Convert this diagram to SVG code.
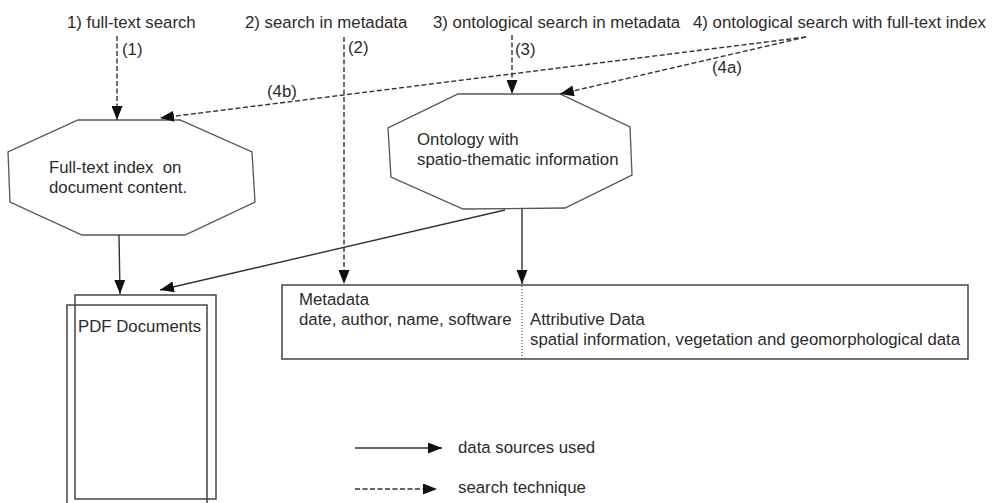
<svg xmlns="http://www.w3.org/2000/svg" width="993" height="503" viewBox="0 0 993 503">
  <style>
    text { font-family: "Liberation Sans", Arial, sans-serif; font-size: 16.8px; fill: #2b2b2b; white-space: pre; }
    .shape { fill: #ffffff; stroke: #555555; stroke-width: 1.3; }
    .box { fill: none; stroke: #444444; stroke-width: 1.5; }
    .flow { fill: none; stroke: #333333; stroke-width: 1.4; marker-end: url(#head); }
    .search { fill: none; stroke: #333333; stroke-width: 1.4; stroke-dasharray: 5 2.5; marker-end: url(#head); }
    .divider { stroke: #555555; stroke-width: 1.2; stroke-dasharray: 1 2; }
  </style>
  <defs>
    <marker id="head" markerUnits="userSpaceOnUse" markerWidth="14" markerHeight="11" refX="14" refY="5.5" orient="auto">
      <path d="M0,0 L14,5.5 L0,11 z" fill="#111111"/>
    </marker>
  </defs>

  <rect width="993" height="503" fill="#ffffff"/>

  <!-- search techniques -->
  <g id="q1"><text x="67" y="28">1) full-text search</text></g>
  <g id="q2"><text x="245" y="28">2) search in metadata</text></g>
  <g id="q3"><text x="433" y="28">3) ontological search in metadata</text></g>
  <g id="q4"><text x="693" y="28">4) ontological search with full-text index</text></g>

  <!-- full-text index -->
  <g id="fulltext">
    <polygon class="shape" points="78,120 180,120 252,152 255,202 185,235 82,235 10,202 8,152"/>
    <text x="49" y="173" xml:space="preserve">Full-text index  on</text>
    <text x="49" y="193">document content.</text>
  </g>

  <!-- ontology -->
  <g id="ontology">
    <polygon class="shape" points="458,94 560,94 630,127 632,175 565,208 463,209 391,177 388,128"/>
    <text x="417" y="145">Ontology with</text>
    <text x="417" y="165">spatio-thematic information</text>
  </g>

  <!-- PDF documents -->
  <g id="pdf">
    <rect class="box" x="75" y="295" width="141" height="204"/>
    <path class="box" d="M67,510 V305 H207 V510"/>
    <text x="78" y="332">PDF Documents</text>
  </g>

  <!-- metadata and attributive data -->
  <g id="data">
    <rect class="box" x="282" y="285" width="686" height="74"/>
    <line class="divider" x1="522" y1="286" x2="522" y2="358"/>
    <text x="299" y="305">Metadata</text>
    <text x="299" y="325">date, author, name, software</text>
    <text x="530" y="325">Attributive Data</text>
    <text x="530" y="345">spatial information, vegetation and geomorphological data</text>
  </g>

  <!-- connectors -->
  <g id="connectors">
    <path class="search" d="M117,36 V120"/>
    <path class="search" d="M344,37 V284"/>
    <path class="search" d="M512,35 V94"/>
    <path class="search" d="M806,37 L560,94"/>
    <path class="search" d="M806,37 L160,118"/>
    <path class="flow" d="M119,235 L120,294"/>
    <path class="flow" d="M505,210 L160,290"/>
    <path class="flow" d="M522,209 V284"/>
    <text x="122" y="55">(1)</text>
    <text x="348" y="53">(2)</text>
    <text x="515" y="55">(3)</text>
    <text x="712" y="73">(4a)</text>
    <text x="267" y="97">(4b)</text>
  </g>

  <!-- legend -->
  <g id="legend">
    <path class="flow" d="M355,448 H442"/>
    <text x="458" y="453">data sources used</text>
    <path class="search" d="M355,489 H437"/>
    <text x="458" y="493">search technique</text>
  </g>
</svg>
